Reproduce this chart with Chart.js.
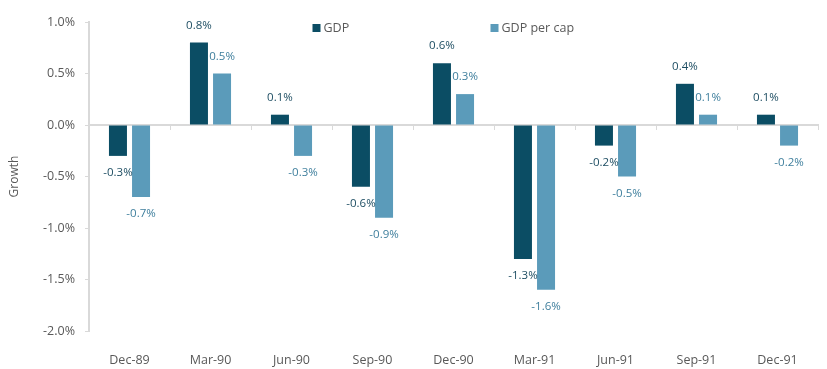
<!DOCTYPE html>
<html>
<head>
<meta charset="utf-8">
<script src="https://cdn.jsdelivr.net/npm/chart.js@4"></script>
<style>
  html, body { margin: 0; padding: 0; background: #fff; }
  #wrap { width: 827px; height: 369px; }
</style>
</head>
<body>
<div id="wrap"><canvas id="grafico" width="827" height="369"></canvas></div>
<script>
const quarters = ["Dec-89", "Mar-90", "Jun-90", "Sep-90", "Dec-90", "Mar-91", "Jun-91", "Sep-91", "Dec-91"];
const gdp = [-0.3, 0.8, 0.1, -0.6, 0.6, -1.3, -0.2, 0.4, 0.1];
const gdpPerCap = [-0.7, 0.5, -0.3, -0.9, 0.3, -1.6, -0.5, 0.1, -0.2];
const yTicks = [-2.0, -1.5, -1.0, -0.5, 0.0, 0.5, 1.0];

const FONT = "'Open Sans', sans-serif";
const GREY = "#595959";
const AXIS = "#d9d9d9";
const labelColors = ["#1d4d62", "#3f7f9d"];

// value labels above / below each bar
const barLabels = {
    id: "barLabels",
    afterDatasetsDraw(chart) {
        const ctx = chart.ctx;
        ctx.save();
        ctx.font = "11.5px " + FONT;
        ctx.textAlign = "center";
        ctx.textBaseline = "middle";
        chart.data.datasets.forEach((ds, i) => {
            const meta = chart.getDatasetMeta(i);
            ctx.fillStyle = labelColors[i];
            meta.data.forEach((bar, j) => {
                const v = ds.data[j];
                const y = v >= 0 ? bar.y - 17 : bar.y + 17;
                ctx.fillText(v.toFixed(1) + "%", bar.x, y);
            });
        });
        ctx.restore();
    }
};

// legend drawn inside the plot area at the top
const innerLegend = {
    id: "innerLegend",
    afterDraw(chart) {
        const ctx = chart.ctx;
        const area = chart.chartArea;
        const cx = (area.left + area.right) / 2;
        const offsets = [-141, 37];
        ctx.save();
        ctx.font = "12.5px " + FONT;
        ctx.textBaseline = "middle";
        chart.data.datasets.forEach((ds, i) => {
            const x = cx + offsets[i];
            const y = area.top + 6;
            ctx.fillStyle = ds.backgroundColor;
            ctx.fillRect(x, y - 4, 8, 8);
            ctx.fillStyle = GREY;
            ctx.fillText(ds.label, x + 11, y);
        });
        ctx.restore();
    }
};

new Chart(document.getElementById("grafico").getContext("2d"), {
    type: "bar",
    data: {
        labels: quarters,
        datasets: [
            { label: "GDP", data: gdp, backgroundColor: "#0b4d64", categoryPercentage: 0.57, barPercentage: 0.78 },
            { label: "GDP per cap", data: gdpPerCap, backgroundColor: "#5b9bba", categoryPercentage: 0.57, barPercentage: 0.78 }
        ]
    },
    options: {
        responsive: false,
        animation: false,
        layout: { padding: { top: 22, right: 9, bottom: 0, left: 3 } },
        plugins: {
            legend: { display: false },
            tooltip: { enabled: false }
        },
        scales: {
            x: {
                grid: { display: false },
                border: { display: false },
                ticks: { color: GREY, font: { family: FONT, size: 12.5 }, padding: 14, maxRotation: 0 },
                afterFit(scale) { scale.height = 38; }
            },
            x0: {
                type: "category",
                position: { y: 0 },
                grid: { offset: true, drawOnChartArea: false, drawTicks: true, tickLength: 4, color: AXIS },
                border: { color: AXIS, width: 2 },
                ticks: { display: false }
            },
            y: {
                min: -2,
                max: 1,
                afterBuildTicks(scale) { scale.ticks = yTicks.map(v => ({ value: v })); },
                ticks: {
                    color: GREY,
                    font: { family: FONT, size: 12.5 },
                    padding: 10,
                    callback: v => v.toFixed(1) + "%"
                },
                grid: { drawOnChartArea: false, drawTicks: true, tickLength: 4, color: AXIS },
                border: { color: AXIS, width: 2 },
                title: { display: true, text: "Growth", color: GREY, font: { family: FONT, size: 12 } },
                afterFit(scale) { scale.width = 86; }
            }
        }
    },
    plugins: [barLabels, innerLegend]
});
</script>
</body>
</html>
